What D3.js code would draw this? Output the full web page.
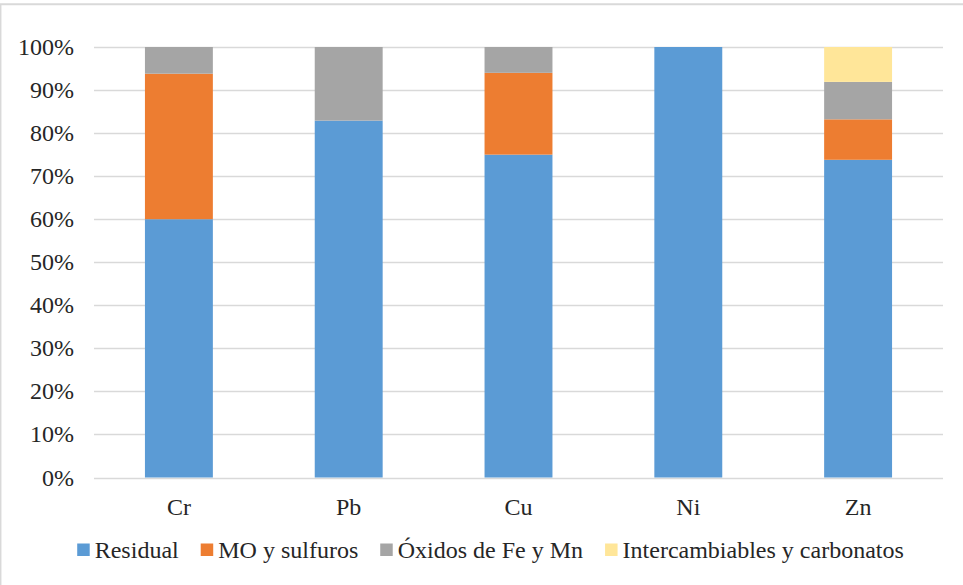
<!DOCTYPE html>
<html>
<head>
<meta charset="utf-8">
<script src="https://cdn.jsdelivr.net/npm/d3@7"></script>
<style>
  html, body { margin: 0; padding: 0; background: #fff; }
  svg { display: block; }
</style>
</head>
<body>
<svg id="chart" width="963" height="585"></svg>
<script>
// Metals and fraction shares (percent of total per metal)
const categories = ["Cr", "Pb", "Cu", "Ni", "Zn"];
const seriesNames = ["Residual", "MO y sulfuros", "Óxidos de Fe y Mn", "Intercambiables y carbonatos"];
const residual        = [60.0, 82.9, 75.0, 100.0, 73.8];
const moSulfuros      = [33.8,  0.0, 19.0,   0.0,  9.4];
const oxidosFeMn      = [ 6.2, 17.1,  6.0,   0.0,  8.7];
const intercambiables = [ 0.0,  0.0,  0.0,   0.0,  8.1];
const yTicks = [0, 10, 20, 30, 40, 50, 60, 70, 80, 90, 100];
const colors = ["#5B9BD5", "#ED7D31", "#A5A5A5", "#FFE699"];

const rows = categories.map((c, i) => ({
  cat: c,
  s0: residual[i], s1: moSulfuros[i], s2: oxidosFeMn[i], s3: intercambiables[i]
}));
const stacked = d3.stack().keys(["s0", "s1", "s2", "s3"])(rows);

const svg = d3.select("#chart");
const W = 963, H = 585;
const plot = { left: 94, right: 943, top: 47, bottom: 477.5 };

// all labels share one serif face
function addLabel(parent, txt, xPos, yPos, anchor) {
  return parent.append("text")
    .attr("x", xPos).attr("y", yPos)
    .attr("text-anchor", anchor)
    .attr("font-family", "Liberation Serif")
    .attr("font-size", 24)
    .attr("fill", "#262626")
    .text(txt);
}

// chart frame (top and left edges visible)
svg.append("line").attr("x1", 0).attr("x2", W).attr("y1", 4.3).attr("y2", 4.3)
  .attr("stroke", "#d9d9d9").attr("stroke-width", 2);
svg.append("line").attr("x1", 0.7).attr("x2", 0.7).attr("y1", 4).attr("y2", H)
  .attr("stroke", "#d9d9d9").attr("stroke-width", 1.5);

const x = d3.scaleBand().domain(categories)
  .range([plot.left, plot.right]).paddingInner(0.6).paddingOuter(0.3);
const y = d3.scaleLinear().domain([0, 100]).range([plot.bottom, plot.top]);

// gridlines
svg.append("g").selectAll("line").data(yTicks).join("line")
  .attr("x1", plot.left).attr("x2", plot.right)
  .attr("y1", d => Math.round(y(d)) + 0.5).attr("y2", d => Math.round(y(d)) + 0.5)
  .attr("stroke", "#d9d9d9").attr("stroke-width", 1.3);

// y tick labels
const yLab = svg.append("g");
yTicks.forEach(t => addLabel(yLab, t + "%", plot.left - 20, y(t) + 8, "end"));

// stacked bars
svg.append("g").selectAll("g").data(stacked).join("g")
  .attr("fill", (d, i) => colors[i])
  .selectAll("rect").data(d => d).join("rect")
  .attr("x", d => x(d.data.cat))
  .attr("width", x.bandwidth())
  .attr("y", d => y(d[1]))
  .attr("height", d => y(d[0]) - y(d[1]));

// category labels
const xLab = svg.append("g");
categories.forEach(c => addLabel(xLab, c, x(c) + x.bandwidth() / 2, plot.bottom + 37.5, "middle"));

// legend
const sw = 12.5, gapText = 5, gapItem = 22;
const legend = svg.append("g");
const items = seriesNames.map((name, i) => {
  const g = legend.append("g");
  g.append("rect").attr("width", sw).attr("height", sw).attr("y", 543.5).attr("fill", colors[i]);
  const t = addLabel(g, name, sw + gapText, 558.3, "start");
  return { g, w: sw + gapText + t.node().getComputedTextLength() };
});
const total = d3.sum(items, d => d.w) + gapItem * (items.length - 1);
let cx = 490.5 - total / 2;
items.forEach(it => { it.g.attr("transform", `translate(${cx},0)`); cx += it.w + gapItem; });
</script>
</body>
</html>
